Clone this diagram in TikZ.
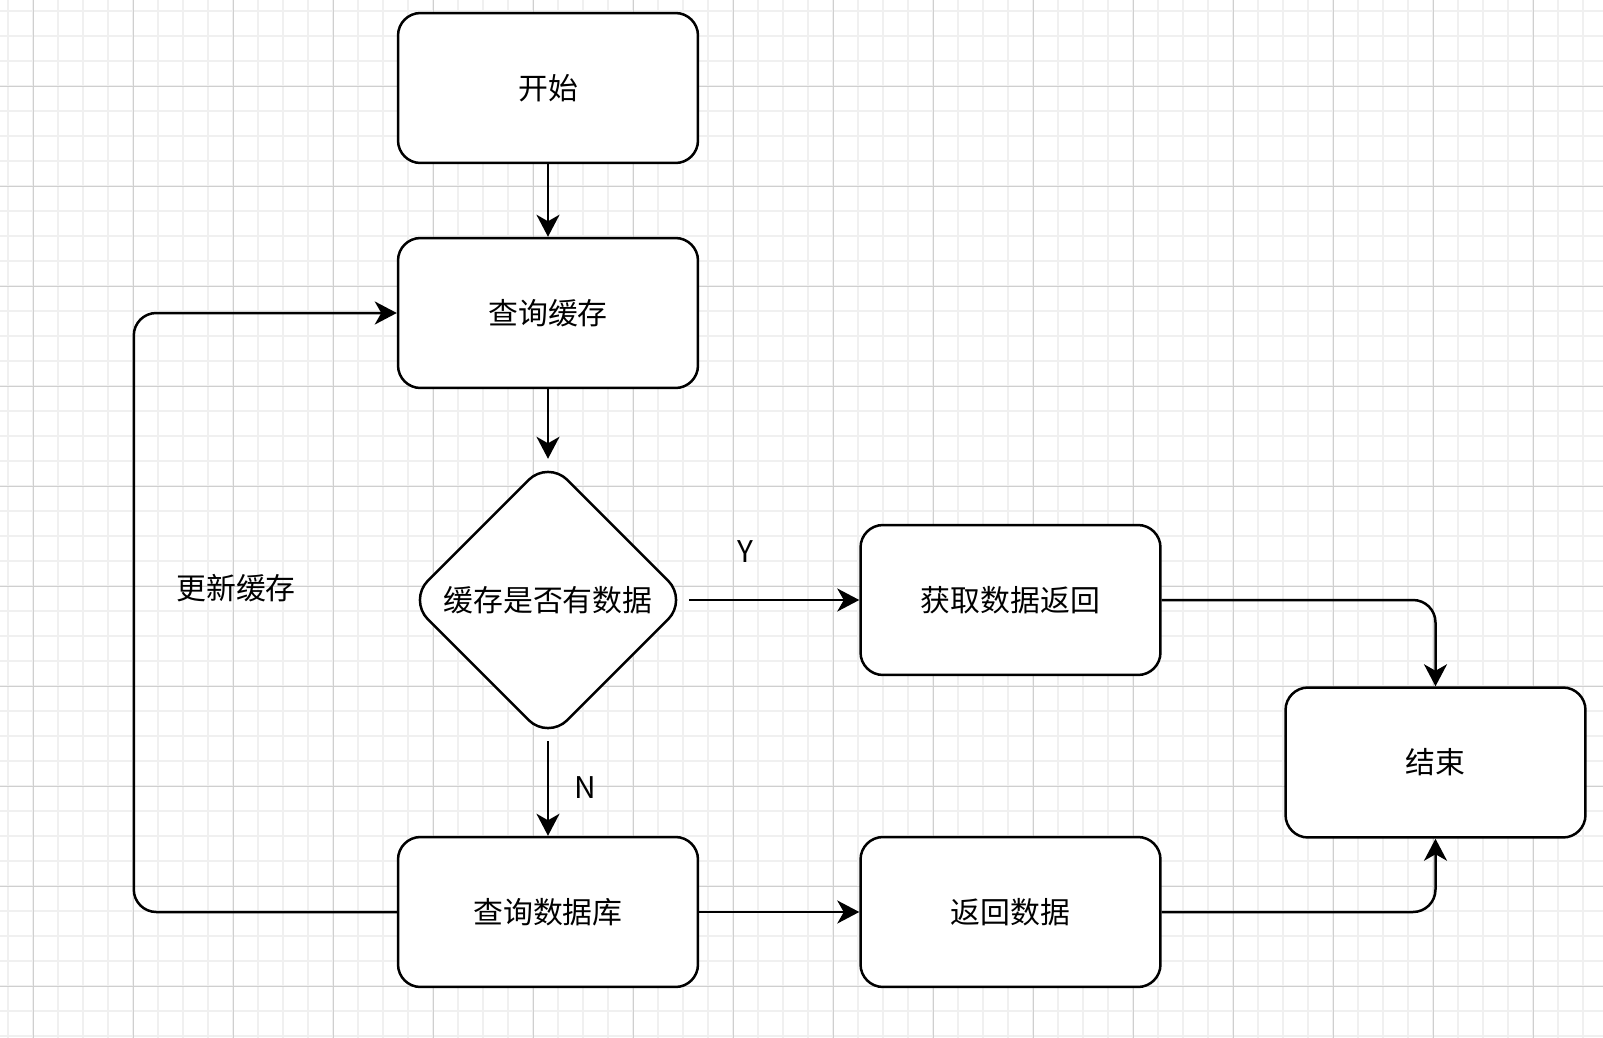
\documentclass[tikz,border=0pt]{standalone}
\usepackage{fontspec}
\setmainfont{Noto Sans CJK SC}
\usetikzlibrary{shapes.geometric,arrows.meta}

\tikzset{
  minorgrid/.style={line width=0.03cm, black!6},
  majorgrid/.style={line width=0.02cm, black!19},
  stepbox/.style={draw, fill=white, line width=0.05cm, rounded corners=0.45cm,
    minimum width=6cm, minimum height=3cm, inner sep=0pt,
    font=\fontsize{17}{20}\selectfont},
  decision/.style={diamond, draw, fill=white, line width=0.05cm, rounded corners=0.55cm,
    minimum width=5.6cm, minimum height=5.6cm, inner sep=0pt,
    font=\fontsize{17}{20}\selectfont},
  flow/.style={line width=0.05cm, rounded corners=0.45cm,
    -{Stealth[length=0.44cm,width=0.46cm,inset=0.13cm]}},
  note/.style={inner sep=0pt, font=\fontsize{17}{20}\selectfont}
}

\begin{document}
\begin{tikzpicture}[x=0.02cm,y=-0.02cm]
  \useasboundingbox (0,0) rectangle (1603,1038);
  \fill[white] (0,0) rectangle (1603,1038);
  % grid
  \foreach \gx in {8,33,...,1603} \draw[minorgrid] (\gx,0) -- (\gx,1038);
  \foreach \gy in {11,36,...,1038} \draw[minorgrid] (0,\gy) -- (1603,\gy);
  \foreach \gx in {33,133,...,1603} \draw[majorgrid] (\gx,0) -- (\gx,1038);
  \foreach \gy in {86,186,...,1038} \draw[majorgrid] (0,\gy) -- (1603,\gy);

  % steps
  \node[stepbox] (start) at (548,88) {开始};
  \node[stepbox] (cache) at (548,313) {查询缓存};
  \node[decision] (check) at (548,600) {缓存是否有数据};
  \node[stepbox] (fetch) at (1010.5,600) {获取数据返回};
  \node[stepbox] (db) at (548,912) {查询数据库};
  \node[stepbox] (ret) at (1010.5,912) {返回数据};
  \node[stepbox] (end) at (1435.5,762.5) {结束};

  % connectors
  \draw[flow] (start) -- (cache);
  \draw[flow] (cache) -- (check);
  \draw[flow] (check.east) -- (fetch.west);
  \draw[flow] (check.south) -- (db.north);
  \draw[flow] (db) -- (ret);
  \draw[flow] (fetch.east) -| (end.north);
  \draw[flow] (ret.east) -| (end.south);
  \draw[flow] (db.west) -- ++(-263,0) |- (cache.west);

  % labels
  \node[note] (yes) at (745,552) {Y};
  \node[note] (no) at (585,788) {N};
  \node[note] (update) at (236,588) {更新缓存};
\end{tikzpicture}
\end{document}
